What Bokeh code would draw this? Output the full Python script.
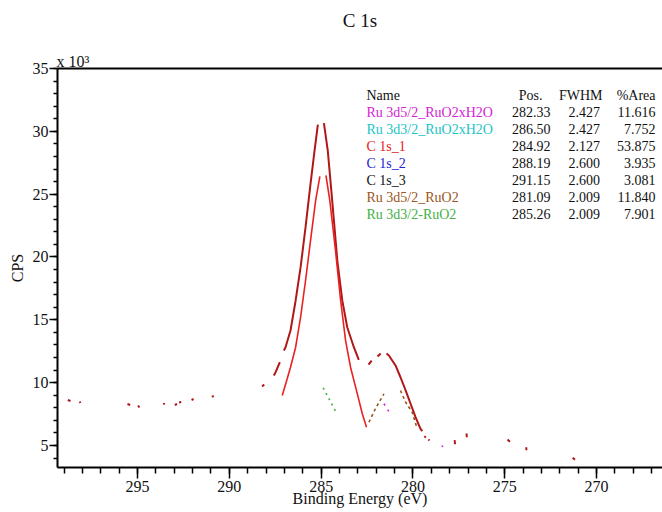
from bokeh.plotting import figure
from bokeh.models import Range1d, FixedTicker, LinearAxis, Label
from bokeh.embed import file_html
from bokeh.resources import INLINE

nan = float("nan")

# ---- component table ----
comp_names = ["Ru 3d5/2_RuO2xH2O", "Ru 3d3/2_RuO2xH2O", "C 1s_1", "C 1s_2",
              "C 1s_3", "Ru 3d5/2_RuO2", "Ru 3d3/2-RuO2"]
comp_pos = ["282.33", "286.50", "284.92", "288.19", "291.15", "281.09", "285.26"]
comp_fwhm = ["2.427", "2.427", "2.127", "2.600", "2.600", "2.009", "2.009"]
comp_area = ["11.616", "7.752", "53.875", "3.935", "3.081", "11.840", "7.901"]
comp_colors = ["#d423d4", "#22c4c4", "#e41c1c", "#2222d4", "#111111", "#9a5522", "#44b044"]
table_headers = ["Name", "Pos.", "FWHM", "%Area"]

# ---- axes ----
x_ticks = [270, 275, 280, 285, 290, 295]
x_minor = list(range(267, 300))
y_ticks = [5, 10, 15, 20, 25, 30, 35]          # CPS x 10^3
y_minor = list(range(4, 36))
scale_note = "x 10³"
scale_note_at = 298.52                           # BE under the scale note

# ---- spectrum / envelope (CPS x 10^3), NaN = break ----
env_be = [298.80, 298.65, nan, 298.14, 298.12, nan, 295.55, 295.40, nan,
          294.97, 294.90, nan, 293.57, 293.55, nan, 292.97, 292.85, nan,
          292.74, 292.62, nan, 292.06, 291.95, nan, 290.95, 290.85, nan,
          288.22, 288.10, nan,
          287.58, 287.48, 287.25, nan,
          287.03, 286.94, 286.67, 286.39, 286.12, 285.85, 285.58, 285.36, 285.18, nan,
          284.85, 284.64, 284.40, 284.12, 283.85, 283.58, 283.22, 282.95, nan,
          282.42, 282.25, nan, 281.93, 281.76, nan,
          281.44, 281.31, 280.95, 280.68, 280.40, 280.13, 279.86, 279.59, 279.49, nan,
          279.38, 279.30, nan, 279.16, 279.10, nan,
          277.73, 277.71, nan, 277.08, 277.07, nan, 274.85, 274.72, nan,
          273.83, 273.82, nan, 271.30, 271.18]
env_cps = [8.62, 8.54, nan, 8.50, 8.38, nan, 8.30, 8.22, nan,
           8.18, 8.02, nan, 8.38, 8.25, nan, 8.22, 8.30, nan,
           8.42, 8.46, nan, 8.62, 8.70, nan, 8.86, 8.94, nan,
           9.70, 9.85, nan,
           10.57, 10.83, 11.63, nan,
           12.56, 12.82, 14.15, 16.54, 19.19, 22.37, 25.82, 28.47, 30.54, nan,
           30.65, 28.47, 24.50, 19.72, 16.54, 14.41, 12.82, 11.82, nan,
           11.44, 11.76, nan, 12.08, 12.32, nan,
           12.32, 12.16, 11.37, 10.43, 9.38, 8.32, 7.25, 6.33, 6.14, nan,
           5.75, 5.62, nan, 5.47, 5.40, nan,
           5.42, 5.10, nan, 5.95, 5.65, nan, 5.48, 5.30, nan,
           4.86, 4.62, nan, 4.02, 3.86]

# ---- C 1s_1 component ----
c1_be = [287.12, 286.85, 286.67, 286.39, 286.12, 285.85, 285.58, 285.30, 285.07, nan,
         284.74, 284.53, 284.22, 283.94, 283.67, 283.40, 283.03, 282.76, 282.53]
c1_cps = [8.98, 10.31, 11.23, 12.82, 15.21, 18.13, 21.31, 24.50, 26.41, nan,
          26.49, 24.50, 20.52, 16.54, 13.35, 11.23, 9.11, 7.52, 6.46]

# ---- Ru 3d5/2_RuO2 ----
ru5_be = [282.40, 282.04, 281.58, nan, 280.68, 280.40, 280.04, 279.77]
ru5_cps = [6.85, 7.94, 9.11, nan, 9.38, 8.44, 7.65, 6.33]

# ---- Ru 3d3/2-RuO2 ----
ru3_be = [284.89, 284.16]
ru3_cps = [9.59, 7.57]

# ---- Ru 3d5/2_RuO2xH2O ----
hyd_be = [281.58, 281.18, nan, 278.42, 278.38]
hyd_cps = [8.32, 7.39, nan, 5.00, 4.88]

SERIF = "Liberation Serif"
INK = "#111111"

p = figure(width=662, height=512, output_backend="svg", toolbar_location=None,
           title=None,
           x_range=Range1d(299.36, 266.41), y_range=Range1d(3.248, 35.0),
           x_axis_location=None, y_axis_location=None,
           min_border_left=57, min_border_right=0, min_border_top=68, min_border_bottom=45,
           outline_line_color=None, background_fill_color="white",
           border_fill_color="white")
p.xgrid.visible = False
p.ygrid.visible = False

xaxis = LinearAxis(ticker=FixedTicker(ticks=x_ticks, minor_ticks=x_minor))
xaxis.axis_line_width = 2
xaxis.major_tick_in = 0
xaxis.major_tick_out = 11
xaxis.minor_tick_in = 0
xaxis.minor_tick_out = 6
xaxis.major_tick_line_width = 1.5
xaxis.minor_tick_line_width = 1.5
xaxis.major_label_standoff = 2
xaxis.major_label_text_font = SERIF
xaxis.major_label_text_font_size = "16px"
xaxis.major_label_text_color = INK
xaxis.axis_label = "Binding Energy (eV)"
xaxis.axis_label_standoff = -5
xaxis.axis_label_text_font = SERIF
xaxis.axis_label_text_font_size = "16px"
xaxis.axis_label_text_font_style = "normal"
xaxis.axis_label_text_color = INK
p.add_layout(xaxis, "below")

yaxis = LinearAxis(ticker=FixedTicker(ticks=y_ticks, minor_ticks=y_minor))
yaxis.axis_line_width = 2
yaxis.major_tick_in = 0
yaxis.major_tick_out = 8
yaxis.minor_tick_in = 0
yaxis.minor_tick_out = 4
yaxis.major_tick_line_width = 1.5
yaxis.minor_tick_line_width = 1.5
yaxis.major_label_standoff = 1
yaxis.major_label_text_font = SERIF
yaxis.major_label_text_font_size = "16px"
yaxis.major_label_text_color = INK
yaxis.axis_label = "CPS"
yaxis.axis_label_standoff = 4
yaxis.axis_label_text_font = SERIF
yaxis.axis_label_text_font_size = "16px"
yaxis.axis_label_text_font_style = "normal"
yaxis.axis_label_text_color = INK
p.add_layout(yaxis, "left")

# top frame line carrying the "x 10^3" note and the title
top = LinearAxis(ticker=FixedTicker(ticks=[scale_note_at], minor_ticks=[]),
                 major_label_overrides={scale_note_at: scale_note})
top.axis_line_width = 2
top.major_tick_out = 0
top.major_tick_in = 0
top.minor_tick_out = 0
top.minor_tick_in = 0
top.major_tick_line_color = None
top.minor_tick_line_color = None
top.major_label_standoff = -1
top.major_label_text_font = SERIF
top.major_label_text_font_size = "16px"
top.major_label_text_color = INK
top.axis_label = "C 1s"
top.axis_label_standoff = 19
top.axis_label_text_font = SERIF
top.axis_label_text_font_size = "19px"
top.axis_label_text_font_style = "normal"
top.axis_label_text_color = INK
p.add_layout(top, "above")

p.line(env_be, env_cps, color="#b01818", line_width=2)
p.line(c1_be, c1_cps, color="#e82222", line_width=1.6)
p.line(ru5_be, ru5_cps, color="#9a5522", line_width=1.6, line_dash="3 3")
p.line(ru3_be, ru3_cps, color="#44b044", line_width=1.6, line_dash="2 4")
p.line(hyd_be, hyd_cps, color="#d423d4", line_width=1.6, line_dash="2 5")

def lab(text, x, y, align="left", color=INK):
    p.add_layout(Label(x=x, y=y, x_units="screen", y_units="screen", text=text,
                       text_font=SERIF, text_font_size="14px", text_align=align,
                       text_baseline="middle", text_color=color))

lab(table_headers[0], 309, 372.5)
lab(table_headers[1], 485, 372.5, align="right")
lab(table_headers[2], 545, 372.5, align="right")
lab(table_headers[3], 598, 372.5, align="right")
for i in range(len(comp_names)):
    yy = 355.5 - 17 * i
    lab(comp_names[i], 309, yy, color=comp_colors[i])
    lab(comp_pos[i], 493, yy, align="right")
    lab(comp_fwhm[i], 542.5, yy, align="right")
    lab(comp_area[i], 598, yy, align="right")

open("out.html", "w").write(file_html(p, INLINE))
